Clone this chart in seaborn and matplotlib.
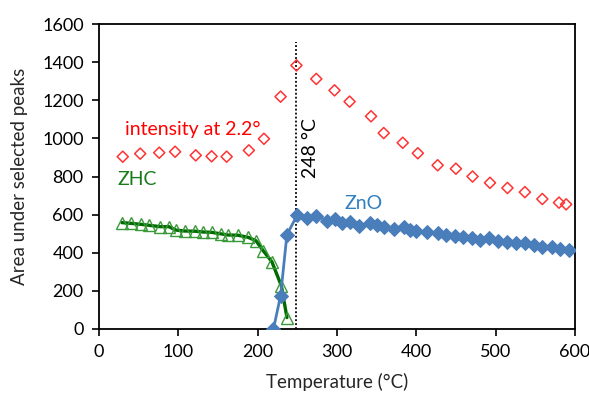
import matplotlib
matplotlib.use("Agg")
import matplotlib.pyplot as plt
import seaborn as sns
import pandas as pd

# ---- data ----
red_T = [30, 52, 76, 96, 122, 142, 161, 189, 208, 229, 249, 274, 297, 316, 343, 359,
         383, 402, 427, 450, 471, 493, 515, 537, 559, 580, 589]
red_val = [904, 920, 925, 930, 911, 906, 904, 937, 998, 1219, 1383, 1312, 1252, 1193,
           1116, 1028, 977, 922, 859, 841, 800, 767, 740, 718, 682, 663, 654]

zhc_T = [29, 41, 53, 63, 77, 88, 97, 108, 121, 131, 142, 154, 163, 175, 188, 198,
         207, 218, 230, 237]
zhc_val = [558, 554, 549, 544, 537, 537, 519, 514, 513, 509, 507, 499, 493, 492,
           481, 463, 411, 353, 226, 60]

zno_T = [220, 229, 237, 250, 262, 274, 288, 297, 306, 316, 328, 342, 350, 360, 372,
         384, 392, 400, 413, 428, 438, 449, 459, 470, 481, 492, 503, 515, 526, 537,
         548, 559, 571, 581, 592]
zno_val = [0, 175, 495, 598, 584, 594, 567, 577, 555, 563, 540, 555, 546, 537, 523,
           537, 519, 514, 507, 502, 493, 490, 484, 479, 467, 476, 462, 458, 450, 450,
           441, 432, 429, 420, 414]

transition_T = 248

xticks = [0, 100, 200, 300, 400, 500, 600]
yticks = [0, 200, 400, 600, 800, 1000, 1200, 1400, 1600]

# ---- style ----
sns.set_style("ticks")
plt.rcParams["font.family"] = ["Lato", "DejaVu Sans"]
plt.rcParams["font.size"] = 13

fig = plt.figure(figsize=(5.89, 3.94), dpi=100)
ax = fig.add_axes([0.168, 0.165, 0.808, 0.774])

red_df = pd.DataFrame({"T": red_T, "v": red_val})
zhc_df = pd.DataFrame({"T": zhc_T, "v": zhc_val})
zno_df = pd.DataFrame({"T": zno_T, "v": zno_val})

green_line = "#006b00"
green_mark = "#3a9a3a"
blue = "#4a7ebb"
red = "#ff3333"

sns.scatterplot(data=red_df, x="T", y="v", ax=ax, marker="D", s=32,
                facecolor="none", edgecolor=red, linewidth=1.1, zorder=3)

sns.lineplot(data=zhc_df, x="T", y="v", ax=ax, color=green_line, linewidth=2.4,
             zorder=4)
ax.plot(zhc_T, zhc_val, linestyle="none", marker="^", markersize=8.5,
        markerfacecolor="none", markeredgecolor=green_mark, markeredgewidth=1.0,
        zorder=5)

sns.lineplot(data=zno_df, x="T", y="v", ax=ax, color=blue, linewidth=2.0,
             marker="D", markersize=7.5, markeredgecolor=blue, markerfacecolor=blue,
             zorder=6)

ax.plot([transition_T, transition_T], [0, 1505], color="black", linestyle=(0, (1, 1.2)),
        linewidth=1.3, zorder=2)

ax.text(33, 1045, "intensity at 2.2°", color="#ff0000", fontsize=14, va="center", ha="left")
ax.text(24, 782, "ZHC", color="#1a7a1a", fontsize=14, va="center", ha="left")
ax.text(309, 661, "ZnO", color="#2f7fc1", fontsize=14, va="center", ha="left")
ax.text(267, 950, "248 °C", color="black", fontsize=14, va="center", ha="center",
        rotation=90)

ax.set_xlim(0, 600)
ax.set_ylim(0, 1600)
ax.set_xticks(xticks)
ax.set_yticks(yticks)
ax.set_xlabel("Temperature (°C)", fontsize=13.5, labelpad=9)
ax.set_ylabel("Area under selected peaks", fontsize=13.5, labelpad=10)
ax.tick_params(direction="out", length=5, width=1.2, colors="black", labelsize=13,
               pad=6)
for s in ax.spines.values():
    s.set_visible(True)
    s.set_color("black")
    s.set_linewidth(1.3)

fig.savefig("out.png", dpi=100)
